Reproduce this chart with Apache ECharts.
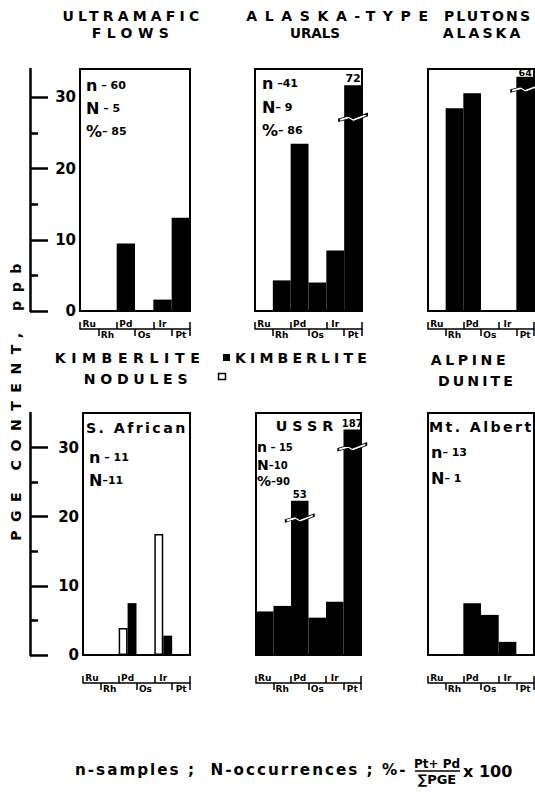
<!DOCTYPE html>
<html>
<head>
<meta charset="utf-8">
<script src="https://cdn.jsdelivr.net/npm/echarts@6/dist/echarts.min.js"></script>
<style>
html,body{margin:0;padding:0;background:#fff;}
#c{width:535px;height:792px;}
text[style*="14.01px"]{letter-spacing:4.2px}
text[style*="14.02px"]{letter-spacing:5.4px}
text[style*="14.03px"]{letter-spacing:7.6px}
text[style*="14.04px"]{letter-spacing:2.1px}
text[style*="14.06px"]{letter-spacing:3px}
text[style*="14.07px"]{letter-spacing:5.6px}
text[style*="14.08px"]{letter-spacing:4.1px}
text[style*="14.09px"]{letter-spacing:4.7px}
text[style*="14.11px"]{letter-spacing:3.6px}
text[style*="14.12px"]{letter-spacing:3.1px}
text[style*="14.1px"]{letter-spacing:8.5px}
text[style*="14.2px"]{letter-spacing:2.4px}
text[style*="14.3px"]{letter-spacing:5px}
text[style*="15.2px"]{letter-spacing:2px}
</style>
</head>
<body>
<div id="c"></div>
<script>
// ---------------- data ----------------
const elements = ['Ru', 'Rh', 'Pd', 'Os', 'Ir', 'Pt'];
const yMajorTicks = [0, 10, 20, 30];
const yMinorTicks = [5, 15, 25];
const rowMax = [34, 35];

// PGE content, ppb (bar heights as drawn)
const ultramaficFlows = [0, 0, 9.5, 0, 1.6, 13.1];
const uralsPlutons = [0, 4.3, 23.5, 4.0, 8.5, 31.7];
const alaskaPlutons = [0, 28.5, 30.6, 0, 0, 32.9];
const saKimberliteNodules = [0, 0, 3.9, 0, 17.5, 0];
const saKimberlite = [0, 0, 7.5, 0, 2.8, 0];
const ussrKimberlite = [6.3, 7.1, 22.3, 5.4, 7.7, 32.6];
const mtAlbertDunite = [0, 0, 7.5, 5.8, 1.9, 0];

// broken bars: [element, true value, value at which the break is drawn]
const uralsBroken = [['Pt', 72, 27.2]];
const alaskaBroken = [['Pt', 64, 31.3]];
const ussrBroken = [['Pd', 53, 19.8], ['Pt', 187, 30.1]];

// n-samples, N-occurrences, %
const statsUltramafic = ['60', '5', '85'];
const statsUrals = ['41', '9', '86'];
const statsSAfrican = ['11', '11'];
const statsUSSR = ['15', '10', '90'];
const statsMtAlbert = ['13', '1'];

// ---------------- layout ----------------
const FF = 'DejaVu Sans';
const grids = [
  {left: 80, top: 69, width: 110, height: 242},
  {left: 255, top: 69, width: 107, height: 242},
  {left: 428, top: 69, width: 106, height: 242},
  {left: 83, top: 413, width: 107, height: 242},
  {left: 256, top: 413, width: 105, height: 242},
  {left: 428, top: 413, width: 106, height: 242}
];
const bracketOffset = [18, 18, 18, 28, 28, 28];
const labelMargin = [46, 0, 0, 49, 0, 0];

const xAxis = [], yAxis = [], mainY = [];
grids.forEach((g, i) => {
  const row = i < 3 ? 0 : 1;
  xAxis.push({type: 'category', gridIndex: i, data: elements, position: 'top',
    axisLine: {show: false}, axisTick: {show: false}, axisLabel: {show: false}, splitLine: {show: false}});
  const lbl = {fontSize: 9, fontWeight: 'bold', color: '#000', fontFamily: FF, interval: 0};
  xAxis.push({type: 'category', gridIndex: i, data: elements, position: 'bottom', offset: bracketOffset[i],
    axisLine: {show: true, onZero: false, lineStyle: {color: '#000', width: 1.5}},
    axisTick: {show: true, inside: true, length: 7, interval: (idx) => idx % 2 === 0, lineStyle: {color: '#000', width: 1.5}},
    axisLabel: Object.assign({show: true, inside: true, margin: 1, formatter: (v, idx) => idx % 2 === 0 ? v : ''}, lbl),
    splitLine: {show: false}});
  xAxis.push({type: 'category', gridIndex: i, data: elements, position: 'bottom', offset: bracketOffset[i],
    axisLine: {show: false, onZero: false},
    axisTick: {show: true, inside: false, length: 7, interval: (idx) => idx % 2 === 1, lineStyle: {color: '#000', width: 1.5}},
    axisLabel: Object.assign({show: true, inside: false, margin: 1, formatter: (v, idx) => idx % 2 === 1 ? v : ''}, lbl),
    splitLine: {show: false}});

  mainY[i] = yAxis.length;
  yAxis.push({type: 'value', gridIndex: i, min: 0, max: rowMax[row], show: false, splitLine: {show: false}});
  if (i === 0 || i === 3) {
    const off = g.left - 30;
    yAxis.push({type: 'value', gridIndex: i, min: 0, max: rowMax[row], interval: 10, position: 'left', offset: off,
      axisLine: {show: true, onZero: false, lineStyle: {color: '#000', width: 2.5}},
      axisTick: {show: true, inside: true, length: 18, customValues: yMajorTicks, lineStyle: {color: '#000', width: 2.5}},
      axisLabel: {show: true, inside: true, align: 'right', margin: labelMargin[i], customValues: yMajorTicks,
        fontSize: 15, fontWeight: 'bold', color: '#000', fontFamily: FF},
      splitLine: {show: false}});
    yAxis.push({type: 'value', gridIndex: i, min: 0, max: rowMax[row], interval: 5, position: 'left', offset: off,
      axisLine: {show: false, onZero: false},
      axisTick: {show: true, inside: true, length: 8, customValues: yMinorTicks, lineStyle: {color: '#000', width: 2.5}},
      axisLabel: {show: false}, splitLine: {show: false}});
  }
});

const breakSymbol = 'path://M0,7 L9,4 L13,7 L26,1 L26,4 L13,10 L9,7 L0,10 Z';
function barData(values, broken, fontSize, distance) {
  return values.map((v, idx) => {
    const b = broken.find(d => d[0] === elements[idx]);
    if (!b) return v;
    return {value: v, label: {show: true, position: 'top', distance: distance, formatter: String(b[1]),
      fontSize: fontSize, fontWeight: 'bold', color: '#000', fontFamily: FF}};
  });
}
function breakMarks(broken) {
  return {symbol: breakSymbol, symbolSize: [28, 8], silent: true, label: {show: false},
    itemStyle: {color: '#fff', borderColor: '#000', borderWidth: 1},
    data: broken.map(b => ({coord: [elements.indexOf(b[0]), b[2]]}))};
}
function barSeries(i, name, data, extra) {
  return Object.assign({type: 'bar', name, xAxisIndex: i * 3, yAxisIndex: mainY[i], data,
    barCategoryGap: '0%', barGap: '0%', itemStyle: {color: '#000'}, animation: false, silent: true}, extra || {});
}

const series = [
  barSeries(0, 'Ultramafic flows', ultramaficFlows),
  barSeries(1, 'Urals', barData(uralsPlutons, uralsBroken, 11, 1), {markPoint: breakMarks(uralsBroken)}),
  barSeries(2, 'Alaska', barData(alaskaPlutons, alaskaBroken, 9.5, -1), {markPoint: breakMarks(alaskaBroken)}),
  barSeries(3, 'Kimberlite nodules', saKimberliteNodules, {itemStyle: {color: '#fff', borderColor: '#000', borderWidth: 1.5}}),
  barSeries(3, 'Kimberlite', saKimberlite),
  barSeries(4, 'USSR', barData(ussrKimberlite, ussrBroken, 10, 1), {markPoint: breakMarks(ussrBroken)}),
  barSeries(5, 'Mt. Albert', mtAlbertDunite)
];

// ---------------- texts ----------------
function t(x, y, text, size, extra) {
  return {type: 'text', x, y, silent: true, style: Object.assign({text, fontSize: size, fontWeight: 'bold',
    fontFamily: FF, fill: '#000', align: 'center', verticalAlign: 'middle'}, extra || {})};
}
function richOf(a, b) {
  return {a: {fontSize: a, lineHeight: a, fontWeight: 'bold', fontFamily: FF},
          b: {fontSize: b, lineHeight: a, fontWeight: 'bold', fontFamily: FF}};
}
function stat(x, y, sym, val, sep, a, b) {
  return {type: 'text', x, y, silent: true, style: {text: '{a|' + sym + '}{b|' + sep + val + '}',
    rich: richOf(a || 16, b || 11), fill: '#000', align: 'left', verticalAlign: 'middle'}};
}
const graphics = [
  t(133, 16, 'ULTRAMAFIC', 14.01),
  t(133, 33, 'FLOWS', 14.02),
  t(341, 16, 'ALASKA-TYPE', 14.03),
  t(488, 16, 'PLUTONS', 14.04),
  t(315, 33, 'URALS', 13.5),
  t(483, 33, 'ALASKA', 14.06),
  t(130, 358, 'KIMBERLITE', 14.07),
  {type: 'rect', silent: true, shape: {x: 223, y: 354, width: 7, height: 7}, style: {fill: '#000'}},
  t(303, 358, 'KIMBERLITE', 14.08),
  t(138, 379, 'NODULES', 14.09),
  {type: 'rect', silent: true, shape: {x: 218.5, y: 373.5, width: 7, height: 6}, style: {fill: '#fff', stroke: '#000', lineWidth: 1.5}},
  t(470, 360, 'ALPINE', 14.11),
  t(477, 381, 'DUNITE', 14.12),
  {type: 'text', x: 16, y: 398, rotation: Math.PI / 2, silent: true,
    style: {text: 'PGE CONTENT, ppb', fontSize: 14.1, fontWeight: 'bold', fontFamily: FF, fill: '#000', align: 'center', verticalAlign: 'middle'}},
  // panel annotations
  stat(86, 85, 'n', statsUltramafic[0], ' – '),
  stat(86, 108, 'N', statsUltramafic[1], ' – '),
  stat(86, 131, '%', statsUltramafic[2], '– '),
  stat(262, 83, 'n', statsUrals[0], ' –'),
  stat(262, 107, 'N', statsUrals[1], '– '),
  stat(262, 130, '%', statsUrals[2], '– '),
  t(86, 428, 'S. African', 14.2, {align: 'left'}),
  stat(89, 457, 'n', statsSAfrican[0], ' – '),
  stat(89, 480, 'N', statsSAfrican[1], '–'),
  t(307, 426, 'USSR', 14.3),
  stat(257, 447, 'n', statsUSSR[0], ' – ', 14, 10),
  stat(257, 465, 'N', statsUSSR[1], '–', 14, 10),
  stat(257, 481, '%', statsUSSR[2], '–', 14, 10),
  t(429, 427, 'Mt. Albert', 14.2, {align: 'left'}),
  stat(431, 452, 'n', statsMtAlbert[0], '– '),
  stat(431, 478, 'N', statsMtAlbert[1], '– '),
  // footer
  t(75, 770, 'n-samples ;  N-occurrences ; %-', 15.2, {align: 'left'}),
  t(437, 764, 'Pt+ Pd', 12),
  {type: 'line', silent: true, shape: {x1: 415, y1: 771, x2: 460, y2: 771}, style: {stroke: '#000', lineWidth: 1.5}},
  t(437, 779, '∑PGE', 13),
  t(463, 771, 'x 100', 16, {align: 'left'})
];

const chart = echarts.init(document.getElementById('c'), null, {renderer: 'svg'});
chart.setOption({
  animation: false,
  backgroundColor: '#fff',
  grid: grids.map(g => Object.assign({show: true, borderColor: '#000', borderWidth: 2,
    backgroundColor: 'rgba(0,0,0,0)', containLabel: false, outerBoundsMode: 'none'}, g)),
  xAxis, yAxis, series,
  graphic: graphics
});
</script>
</body>
</html>
